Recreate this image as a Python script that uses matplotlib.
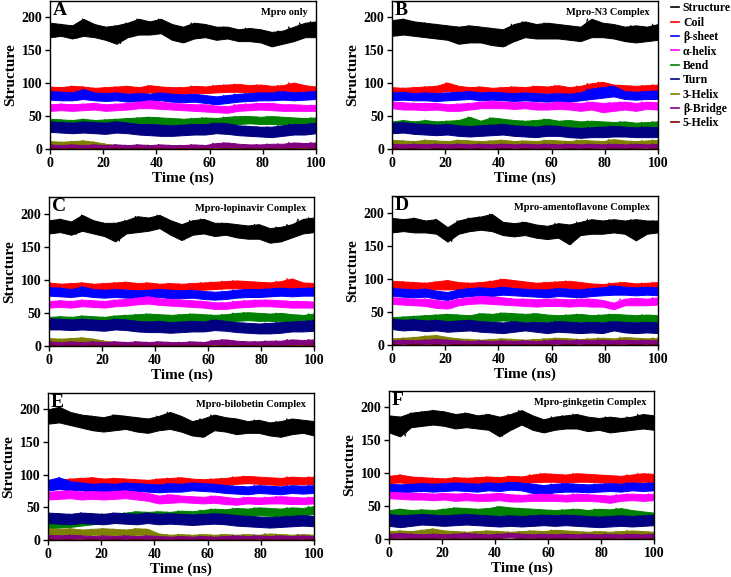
import numpy as np
import matplotlib
matplotlib.use('Agg')
from matplotlib import pyplot as plt

series_names = ['Structure', 'Coil', 'β-sheet', 'α-helix', 'Bend', 'Turn', '3-Helix', 'β-Bridge', '5-Helix']
series_colors = ['#000000', '#ff0000', '#0000ff', '#ff00ff', '#008000', '#000080', '#808000', '#800080', '#800000']
panel_letters = ['A', 'B', 'C', 'D', 'E', 'F']
panel_titles = ['Mpro only', 'Mpro-N3 Complex', 'Mpro-lopinavir Complex',
                'Mpro-amentoflavone Complex', 'Mpro-bilobetin Complex', 'Mpro-ginkgetin Complex']

# values: pairs of (upper, lower) edge of each noisy trace, every 4 ns
a_structure = [192, 170, 190, 172, 188, 168, 198, 172, 190, 170, 186, 166, 188, 160, 192, 170, 198, 174, 194, 174,
               198, 176, 190, 166, 186, 162, 192, 168, 190, 170, 186, 166, 186, 168, 182, 164, 184, 164, 182, 162,
               178, 156, 180, 160, 186, 164, 192, 170, 194, 170]
a_coil = [95, 84, 94, 83, 96, 85, 95, 84, 93, 83, 94, 84, 95, 85, 96, 85, 94, 84, 97, 86, 95, 84, 94, 83, 94, 84,
          96, 85, 95, 85, 97, 86, 98, 87, 99, 87, 97, 86, 98, 86, 96, 85, 97, 86, 101, 86, 97, 85, 95, 85]
a_sheet = [88, 75, 87, 74, 86, 74, 91, 76, 86, 74, 85, 73, 86, 74, 84, 72, 85, 73, 84, 72, 86, 74, 84, 72, 83, 71,
           84, 72, 82, 70, 80, 68, 82, 70, 84, 72, 85, 73, 86, 74, 86, 74, 88, 75, 86, 74, 87, 75, 88, 76]
a_helix = [68, 58, 69, 59, 68, 58, 69, 59, 70, 60, 68, 58, 69, 59, 70, 60, 72, 62, 74, 62, 72, 61, 70, 60, 69, 59,
           68, 58, 68, 57, 66, 56, 65, 55, 68, 58, 69, 59, 70, 60, 70, 59, 68, 58, 68, 58, 67, 58, 67, 58]
a_bend = [46, 26, 45, 33, 44, 33, 46, 34, 44, 32, 45, 33, 46, 34, 47, 35, 48, 36, 49, 37, 48, 36, 47, 35, 46, 35,
          47, 36, 48, 37, 47, 36, 49, 38, 50, 38, 50, 39, 49, 38, 50, 38, 49, 37, 48, 36, 47, 35, 48, 36]
a_turn = [42, 26, 41, 25, 40, 24, 42, 25, 41, 24, 40, 23, 42, 25, 40, 24, 38, 22, 38, 21, 37, 20, 36, 20, 37, 21,
          38, 22, 38, 22, 40, 24, 39, 23, 36, 21, 35, 20, 34, 19, 34, 18, 36, 20, 38, 22, 38, 22, 40, 24]
a_helix3 = [12, 5, 11, 4, 12, 5, 13, 5, 11, 4, 8, 2, 6, 1, 5, 1, 5, 1, 6, 1, 5, 1, 4, 0, 5, 1,
            4, 0, 5, 1, 6, 1, 5, 1, 5, 1, 4, 0, 5, 1, 4, 0, 5, 1, 4, 0, 5, 1, 5, 1]
a_bridge = [7, 1, 6, 1, 7, 2, 6, 1, 7, 1, 6, 1, 7, 2, 6, 1, 7, 1, 6, 1, 7, 2, 6, 1, 6, 1,
            7, 1, 6, 1, 9, 3, 10, 3, 8, 2, 7, 2, 7, 2, 8, 2, 8, 2, 10, 3, 9, 3, 10, 3]
a_helix5 = [1, 0, 0, 0, 1, 0, 0, 0, 1, 0, 0, 0, 1, 0, 0, 0, 1, 0, 0, 0, 1, 0, 0, 0, 1,
            0, 0, 0, 1, 0, 0, 0, 1, 0, 0, 0, 1, 0, 0, 0, 1, 0, 0, 0, 1, 0, 0, 0, 1, 0]

b_structure = [196, 172, 198, 174, 194, 172, 192, 170, 190, 168, 188, 166, 186, 160, 188, 162, 186, 162, 184, 158,
               182, 156, 190, 164, 194, 170, 190, 168, 192, 168, 190, 168, 188, 166, 186, 164, 198, 170, 192, 170,
               190, 168, 186, 164, 188, 162, 186, 164, 190, 166]
b_coil = [94, 84, 93, 84, 94, 84, 95, 85, 96, 86, 101, 88, 96, 86, 94, 85, 95, 85, 93, 84, 94, 84, 95, 85, 94, 84,
          96, 86, 95, 85, 97, 86, 94, 84, 96, 85, 100, 87, 102, 88, 98, 86, 97, 87, 96, 85, 97, 86, 98, 87]
b_sheet = [86, 74, 87, 75, 85, 74, 86, 74, 85, 73, 86, 74, 87, 75, 88, 76, 86, 74, 87, 75, 86, 74, 85, 73, 86, 74,
           85, 73, 84, 72, 85, 73, 84, 72, 86, 74, 92, 76, 94, 78, 96, 80, 88, 76, 87, 75, 88, 76, 89, 76]
b_helix = [72, 62, 71, 60, 70, 60, 70, 59, 70, 60, 68, 58, 69, 58, 70, 60, 72, 62, 73, 62, 72, 62, 71, 61, 72, 62,
           71, 60, 70, 60, 72, 61, 71, 60, 70, 58, 72, 60, 70, 56, 71, 58, 72, 60, 70, 58, 72, 61, 71, 60]
b_bend = [42, 28, 44, 30, 42, 30, 44, 32, 42, 30, 43, 31, 44, 32, 49, 34, 43, 32, 48, 36, 46, 33, 44, 32, 43, 31,
          44, 32, 46, 34, 43, 32, 44, 32, 42, 30, 43, 31, 42, 30, 41, 30, 42, 30, 40, 29, 41, 30, 42, 31]
b_turn = [40, 24, 41, 25, 39, 23, 38, 22, 37, 21, 38, 22, 36, 20, 35, 19, 36, 20, 37, 21, 38, 22, 36, 20, 35, 19,
          34, 18, 36, 20, 35, 20, 33, 18, 32, 17, 33, 18, 34, 18, 35, 19, 34, 19, 33, 18, 34, 18, 33, 18]
b_helix3 = [14, 6, 13, 7, 12, 6, 14, 7, 13, 6, 12, 6, 14, 7, 13, 6, 12, 6, 13, 6, 14, 7, 12, 6, 13, 6,
            12, 5, 14, 7, 13, 6, 12, 6, 14, 7, 13, 6, 12, 6, 15, 7, 13, 6, 12, 6, 13, 6, 14, 7]
b_bridge = [8, 2, 7, 1, 8, 2, 7, 2, 8, 2, 7, 1, 8, 2, 7, 1, 8, 2, 7, 2, 8, 1, 7, 2, 8, 2,
            7, 1, 8, 2, 7, 2, 8, 2, 7, 1, 8, 2, 7, 2, 8, 2, 7, 1, 8, 2, 7, 2, 8, 2]
b_helix5 = [1, 0, 0, 0, 1, 0, 0, 0, 1, 0, 0, 0, 1, 0, 0, 0, 1, 0, 0, 0, 1, 0, 0, 0, 1,
            0, 0, 0, 1, 0, 0, 0, 1, 0, 0, 0, 1, 0, 0, 0, 1, 0, 0, 0, 1, 0, 0, 0, 1, 0]

c_structure = [190, 170, 192, 172, 188, 168, 198, 174, 190, 170, 186, 166, 186, 158, 190, 170, 196, 172, 194, 174,
               198, 178, 190, 168, 184, 160, 190, 168, 192, 170, 186, 166, 186, 168, 184, 164, 182, 162, 184, 162,
               178, 156, 180, 158, 184, 164, 192, 170, 194, 172]
c_coil = [96, 85, 94, 84, 95, 85, 96, 84, 94, 83, 95, 84, 96, 85, 97, 86, 95, 84, 96, 85, 94, 84, 95, 84, 94, 83,
          95, 85, 96, 85, 97, 86, 98, 87, 99, 87, 98, 86, 97, 86, 96, 85, 98, 86, 102, 87, 96, 85, 95, 85]
c_sheet = [89, 76, 88, 75, 86, 74, 90, 76, 86, 74, 85, 73, 86, 74, 85, 73, 84, 72, 85, 73, 86, 74, 85, 72, 84, 72,
           85, 73, 83, 71, 82, 70, 83, 71, 85, 73, 86, 74, 86, 74, 87, 75, 88, 76, 87, 75, 88, 76, 88, 76]
c_helix = [68, 58, 69, 59, 68, 58, 70, 60, 69, 59, 68, 58, 70, 60, 71, 61, 73, 63, 75, 64, 72, 62, 71, 61, 70, 60,
           69, 59, 68, 58, 66, 56, 66, 56, 68, 58, 69, 59, 70, 60, 70, 60, 69, 59, 68, 58, 68, 58, 67, 58]
c_bend = [44, 26, 45, 33, 44, 33, 46, 34, 45, 33, 44, 32, 46, 34, 47, 35, 48, 36, 49, 37, 48, 36, 47, 35, 48, 36,
          49, 37, 48, 37, 47, 36, 48, 37, 50, 38, 51, 39, 50, 38, 49, 38, 50, 37, 48, 36, 47, 35, 49, 37]
c_turn = [42, 25, 41, 25, 40, 24, 41, 25, 40, 24, 39, 23, 41, 25, 40, 24, 38, 22, 37, 21, 38, 21, 36, 20, 37, 21,
          38, 22, 37, 22, 40, 24, 38, 23, 36, 21, 35, 20, 34, 19, 35, 19, 36, 20, 37, 22, 38, 22, 39, 23]
c_helix3 = [12, 5, 11, 4, 12, 5, 13, 5, 11, 4, 8, 2, 6, 1, 5, 1, 6, 1, 5, 1, 5, 1, 4, 0, 5, 1,
            4, 0, 5, 1, 6, 1, 5, 1, 5, 1, 4, 0, 5, 1, 4, 0, 5, 1, 4, 0, 5, 1, 5, 1]
c_bridge = [7, 1, 6, 1, 7, 2, 6, 1, 7, 1, 6, 1, 7, 2, 6, 1, 7, 1, 6, 1, 7, 2, 6, 1, 6, 1,
            7, 1, 6, 1, 9, 3, 10, 3, 8, 2, 7, 2, 7, 2, 8, 2, 8, 2, 10, 3, 9, 3, 10, 3]
c_helix5 = [1, 0, 0, 0, 1, 0, 0, 0, 1, 0, 0, 0, 1, 0, 0, 0, 1, 0, 0, 0, 1, 0, 0, 0, 1,
            0, 0, 0, 1, 0, 0, 0, 1, 0, 0, 0, 1, 0, 0, 0, 1, 0, 0, 0, 1, 0, 0, 0, 1, 0]

d_structure = [192, 170, 190, 172, 192, 170, 188, 170, 190, 168, 178, 156, 188, 168, 192, 172, 194, 174, 198, 172,
               186, 166, 184, 164, 186, 166, 182, 162, 180, 160, 184, 162, 182, 152, 186, 166, 190, 168, 188, 168,
               190, 170, 188, 168, 190, 158, 188, 168, 188, 170]
d_coil = [97, 86, 96, 85, 95, 85, 94, 84, 96, 84, 98, 84, 95, 84, 94, 83, 95, 84, 97, 85, 100, 88, 98, 87, 96, 85,
          94, 84, 95, 84, 96, 85, 97, 86, 95, 84, 93, 83, 92, 82, 94, 83, 95, 84, 93, 83, 94, 84, 95, 84]
d_sheet = [86, 74, 85, 73, 84, 72, 85, 73, 82, 70, 80, 68, 84, 72, 86, 74, 87, 75, 86, 74, 88, 76, 86, 75, 85, 74,
           84, 73, 84, 72, 86, 74, 85, 73, 84, 72, 86, 74, 87, 75, 90, 76, 88, 76, 87, 75, 88, 76, 87, 75]
d_helix = [72, 62, 71, 61, 70, 60, 70, 59, 68, 56, 66, 55, 70, 60, 72, 62, 74, 63, 73, 62, 72, 61, 70, 60, 70, 59,
           69, 58, 70, 59, 70, 59, 69, 58, 70, 59, 70, 58, 68, 58, 64, 54, 70, 60, 71, 60, 70, 60, 72, 61]
d_bend = [42, 30, 43, 32, 44, 33, 45, 34, 46, 34, 47, 35, 46, 35, 45, 34, 48, 36, 47, 36, 49, 37, 48, 36, 47, 35,
          48, 36, 46, 35, 45, 34, 46, 34, 47, 35, 45, 34, 46, 35, 47, 35, 46, 34, 45, 34, 46, 35, 45, 34]
d_turn = [40, 24, 38, 22, 39, 23, 37, 21, 38, 22, 36, 20, 37, 21, 38, 22, 36, 20, 35, 19, 34, 18, 36, 20, 34, 22,
          35, 20, 34, 18, 36, 20, 35, 19, 34, 18, 35, 19, 34, 18, 36, 22, 35, 19, 34, 18, 35, 19, 34, 18]
d_helix3 = [10, 4, 11, 5, 12, 5, 14, 6, 15, 5, 12, 4, 10, 3, 9, 3, 8, 3, 9, 3, 10, 4, 9, 3, 8, 3,
            9, 3, 10, 4, 11, 4, 10, 4, 9, 3, 10, 4, 11, 4, 10, 4, 12, 4, 11, 4, 10, 4, 11, 4]
d_bridge = [7, 1, 8, 2, 7, 1, 8, 2, 9, 2, 8, 2, 7, 1, 6, 1, 7, 1, 6, 1, 7, 2, 6, 1, 7, 1,
            6, 1, 7, 2, 8, 2, 7, 1, 8, 2, 7, 1, 8, 2, 7, 2, 8, 2, 7, 1, 8, 2, 7, 2]
d_helix5 = [1, 0, 0, 0, 1, 0, 0, 0, 1, 0, 0, 0, 1, 0, 0, 0, 1, 0, 0, 0, 1, 0, 0, 0, 1,
            0, 0, 0, 1, 0, 0, 0, 1, 0, 0, 0, 1, 0, 0, 0, 1, 0, 0, 0, 1, 0, 0, 0, 1, 0]

e_structure = [200, 178, 204, 180, 196, 176, 192, 172, 190, 168, 188, 166, 192, 168, 190, 170, 188, 166, 186, 164,
               190, 168, 196, 170, 190, 166, 182, 160, 186, 158, 192, 168, 188, 166, 186, 162, 182, 164, 184, 164,
               180, 160, 182, 158, 186, 162, 184, 164, 182, 160]
e_coil = [90, 80, 92, 82, 94, 84, 95, 84, 96, 85, 94, 83, 95, 84, 94, 84, 93, 83, 92, 82, 94, 84, 95, 84, 96, 85,
          94, 84, 93, 83, 94, 84, 95, 84, 97, 86, 98, 87, 97, 86, 96, 85, 95, 84, 97, 86, 96, 85, 97, 86]
e_sheet = [92, 76, 96, 78, 90, 76, 88, 76, 86, 74, 87, 75, 86, 74, 88, 76, 87, 75, 86, 74, 85, 73, 87, 74, 86, 74,
           88, 76, 87, 75, 86, 74, 84, 72, 83, 71, 82, 70, 84, 72, 83, 71, 82, 70, 84, 72, 83, 71, 84, 72]
e_helix = [74, 62, 75, 63, 76, 64, 74, 62, 75, 63, 74, 62, 75, 63, 76, 64, 74, 62, 72, 60, 68, 56, 70, 57, 68, 58,
           67, 57, 66, 56, 68, 57, 66, 55, 64, 54, 66, 56, 65, 55, 66, 56, 67, 56, 66, 55, 65, 55, 66, 56]
e_bend = [36, 18, 35, 19, 34, 20, 36, 22, 38, 24, 40, 26, 40, 28, 42, 30, 44, 32, 43, 33, 44, 34, 43, 33, 45, 35,
          44, 34, 46, 36, 48, 37, 47, 36, 49, 38, 48, 37, 50, 38, 49, 37, 48, 36, 50, 37, 49, 38, 52, 40]
e_turn = [42, 26, 41, 25, 40, 24, 42, 26, 41, 25, 40, 24, 42, 26, 41, 25, 40, 24, 42, 26, 40, 24, 41, 25, 40, 24,
          39, 23, 40, 24, 41, 25, 40, 24, 38, 22, 37, 21, 36, 20, 35, 19, 36, 20, 37, 21, 38, 22, 37, 21]
e_helix3 = [18, 8, 17, 7, 18, 8, 16, 7, 17, 8, 18, 8, 17, 7, 16, 7, 18, 8, 17, 8, 10, 3, 8, 3, 9, 3,
            8, 2, 9, 3, 8, 3, 9, 3, 8, 2, 9, 3, 8, 3, 10, 3, 9, 3, 8, 2, 9, 3, 8, 3]
e_bridge = [8, 2, 7, 1, 8, 2, 7, 2, 6, 1, 7, 1, 6, 1, 7, 2, 6, 1, 7, 1, 6, 1, 5, 1, 6, 1,
            5, 1, 6, 1, 5, 1, 6, 1, 7, 1, 6, 1, 7, 2, 6, 1, 7, 1, 6, 1, 7, 2, 6, 1]
e_helix5 = [1, 0, 0, 0, 1, 0, 0, 0, 1, 0, 0, 0, 1, 0, 0, 0, 1, 0, 0, 0, 1, 0, 0, 0, 1,
            0, 0, 0, 1, 0, 0, 0, 1, 0, 0, 0, 1, 0, 0, 0, 1, 0, 0, 0, 1, 0, 0, 0, 1, 0]

f_structure = [188, 162, 186, 156, 192, 170, 194, 172, 196, 174, 194, 172, 190, 168, 192, 170, 188, 168, 190, 166,
               186, 156, 190, 166, 196, 174, 188, 166, 182, 162, 186, 166, 188, 168, 190, 168, 186, 164, 184, 166,
               186, 162, 184, 164, 186, 166, 190, 168, 188, 166]
f_coil = [96, 85, 98, 86, 95, 84, 94, 84, 93, 84, 92, 83, 94, 84, 93, 83, 94, 84, 95, 85, 94, 84, 96, 85, 95, 85,
          98, 86, 100, 87, 99, 87, 98, 86, 100, 87, 99, 87, 98, 86, 97, 86, 96, 85, 98, 86, 100, 87, 99, 86]
f_sheet = [84, 72, 83, 71, 84, 72, 85, 73, 84, 72, 85, 73, 86, 74, 85, 73, 84, 72, 86, 74, 85, 73, 87, 75, 86, 74,
           84, 70, 82, 68, 84, 71, 85, 72, 84, 72, 83, 71, 84, 72, 85, 73, 84, 72, 86, 74, 85, 73, 86, 74]
f_helix = [72, 62, 71, 61, 70, 60, 70, 60, 69, 59, 70, 60, 69, 58, 70, 59, 68, 58, 69, 58, 70, 59, 68, 57, 67, 57,
           68, 58, 69, 58, 68, 58, 67, 57, 69, 58, 68, 58, 67, 57, 66, 55, 68, 58, 69, 59, 68, 58, 69, 59]
f_bend = [44, 32, 46, 33, 44, 32, 45, 33, 44, 32, 46, 34, 48, 35, 47, 34, 46, 33, 47, 35, 50, 36, 48, 35, 47, 34,
          46, 34, 45, 33, 44, 32, 45, 33, 46, 34, 44, 32, 46, 33, 45, 33, 47, 34, 44, 32, 42, 30, 40, 28]
f_turn = [38, 20, 36, 18, 37, 20, 38, 22, 37, 21, 36, 20, 37, 21, 38, 22, 37, 21, 36, 20, 35, 19, 36, 20, 35, 19,
          36, 20, 37, 21, 36, 20, 37, 21, 36, 20, 35, 19, 34, 18, 35, 19, 36, 20, 35, 19, 36, 20, 37, 21]
f_helix3 = [12, 6, 13, 6, 12, 6, 14, 7, 16, 7, 13, 6, 12, 6, 11, 5, 12, 6, 13, 6, 12, 6, 11, 5, 12, 6,
            13, 6, 12, 6, 14, 6, 13, 6, 12, 6, 11, 5, 12, 6, 11, 5, 12, 6, 13, 6, 12, 5, 11, 5]
f_bridge = [8, 2, 9, 2, 8, 2, 7, 1, 8, 2, 7, 2, 8, 2, 9, 2, 8, 2, 7, 1, 8, 2, 9, 3, 8, 2,
            7, 2, 8, 2, 7, 1, 8, 2, 7, 2, 8, 2, 7, 1, 8, 2, 7, 2, 8, 2, 7, 1, 8, 2]
f_helix5 = [1, 0, 0, 0, 1, 0, 0, 0, 1, 0, 0, 0, 1, 0, 0, 0, 1, 0, 0, 0, 1, 0, 0, 0, 1,
            0, 0, 0, 1, 0, 0, 0, 1, 0, 0, 0, 1, 0, 0, 0, 1, 0, 0, 0, 1, 0, 0, 0, 1, 0]

panels = [
    [a_structure, a_coil, a_sheet, a_helix, a_bend, a_turn, a_helix3, a_bridge, a_helix5],
    [b_structure, b_coil, b_sheet, b_helix, b_bend, b_turn, b_helix3, b_bridge, b_helix5],
    [c_structure, c_coil, c_sheet, c_helix, c_bend, c_turn, c_helix3, c_bridge, c_helix5],
    [d_structure, d_coil, d_sheet, d_helix, d_bend, d_turn, d_helix3, d_bridge, d_helix5],
    [e_structure, e_coil, e_sheet, e_helix, e_bend, e_turn, e_helix3, e_bridge, e_helix5],
    [f_structure, f_coil, f_sheet, f_helix, f_bend, f_turn, f_helix3, f_bridge, f_helix5],
]

plt.rcParams['font.family'] = 'serif'
plt.rcParams['font.serif'] = ['Liberation Serif', 'DejaVu Serif']
plt.rcParams['font.weight'] = 'bold'
plt.rcParams['axes.labelweight'] = 'bold'

W, H = 731, 577
# axes boxes in pixels: left, top, right, bottom
boxes = [(50, 1, 316, 149), (392, 1, 658, 149),
         (49, 197, 314, 346), (392, 196, 658, 345),
         (48, 393, 314, 540), (389, 391, 654, 539)]

fig = plt.figure(figsize=(W / 100, H / 100), dpi=100)
for k, (l, t, r, b) in enumerate(boxes):
    ax = fig.add_axes([l / W, 1 - b / H, (r - l) / W, (b - t) / H])
    for i, (vals, name, col) in enumerate(zip(panels[k], series_names, series_colors)):
        upper = np.array(vals[0::2])
        lower = np.array(vals[1::2])
        time = np.linspace(0, 100, len(upper))
        ax.fill_between(time, lower, upper, color=col, lw=0.7, zorder=2 + i)
        ax.plot(np.linspace(0, 100, len(vals)), vals, color=col, lw=0.6, zorder=2 + i)
    ax.set_xlim(0, 100)
    ax.set_ylim(0, 225)
    ax.set_xticks([0, 20, 40, 60, 80, 100])
    ax.set_yticks([0, 50, 100, 150, 200])
    ax.tick_params(direction='out', length=3.5, width=1, labelsize=10, pad=2)
    for sp in ax.spines.values():
        sp.set_linewidth(1)
        sp.set_zorder(20)
    ax.set_xlabel('Time (ns)', fontsize=11, labelpad=1)
    ax.set_ylabel('Structure', fontsize=11, labelpad=3)
    ax.text(0.01, 0.995, panel_letters[k], transform=ax.transAxes, ha='left', va='top',
            fontsize=14, fontweight='bold', zorder=30)
    ax.text(0.97, 0.95, panel_titles[k], transform=ax.transAxes, ha='right', va='top',
            fontsize=7.5, fontweight='bold', zorder=30)

leg_lines = [plt.Line2D([], [], color=c, lw=1.2) for c in series_colors]
fig.legend(leg_lines, series_names, loc='upper left', bbox_to_anchor=(664 / W, 1.008),
           frameon=False, fontsize=8.5, handlelength=0.7, handletextpad=0.3,
           labelspacing=0.2, borderpad=0.1)

fig.savefig('out.png', dpi=100)
